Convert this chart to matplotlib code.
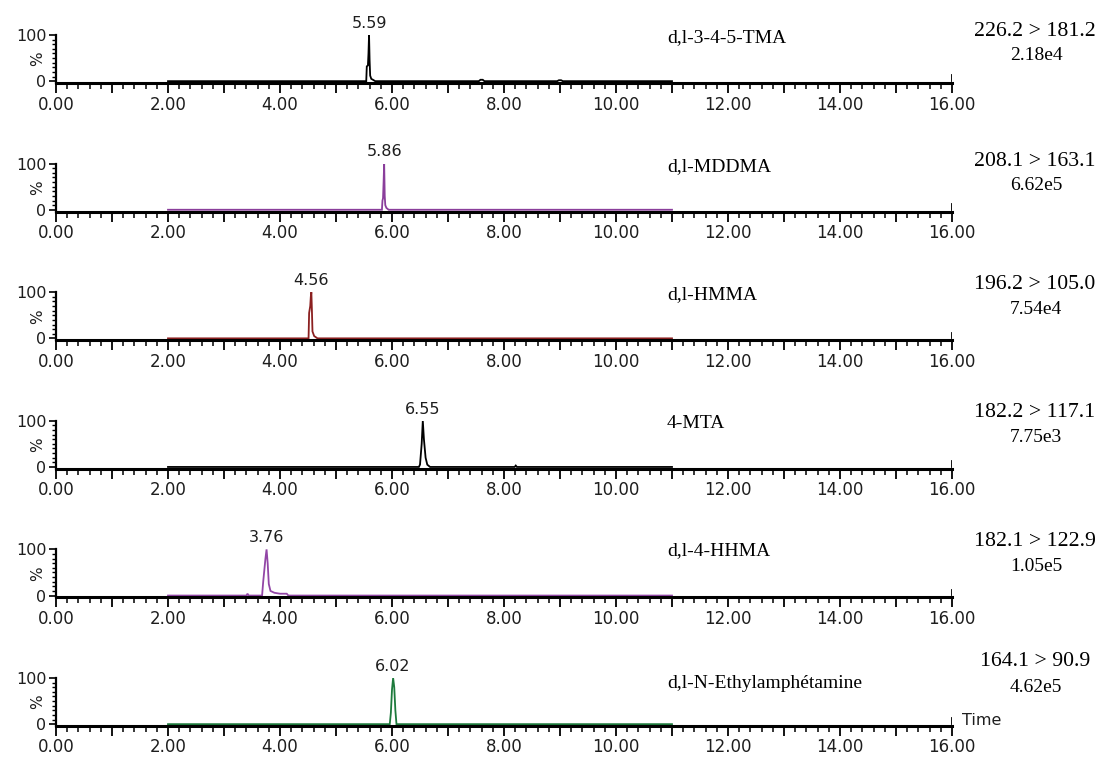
import matplotlib
matplotlib.use("Agg")
import matplotlib.pyplot as plt
from matplotlib.ticker import MultipleLocator, FixedLocator, FuncFormatter

# ---------------- data ----------------
compounds = ["d,l-3-4-5-TMA", "d,l-MDDMA", "d,l-HMMA", "4-MTA",
             "d,l-4-HHMA", "d,l-N-Ethylamphétamine"]
transitions = ["226.2 > 181.2", "208.1 > 163.1", "196.2 > 105.0",
               "182.2 > 117.1", "182.1 > 122.9", "164.1 > 90.9"]
intensities = ["2.18e4", "6.62e5", "7.54e4", "7.75e3", "1.05e5", "4.62e5"]
peak_times = [5.59, 5.86, 4.56, 6.55, 3.76, 6.02]
peak_labels = ["5.59", "5.86", "4.56", "6.55", "3.76", "6.02"]

t1 = [2.00, 5.54, 5.55, 5.57, 5.58, 5.59, 5.60, 5.61, 5.63, 5.66, 5.70,
      7.55, 7.58, 7.62, 7.65, 8.95, 8.98, 9.02, 9.05, 11.00]
i1 = [0, 0, 32, 34, 60, 100, 45, 12, 5, 3, 0,
      0, 3, 3, 0, 0, 2, 2, 0, 0]

t2 = [2.00, 5.82, 5.83, 5.84, 5.85, 5.86, 5.87, 5.88, 5.90, 5.94, 11.00]
i2 = [0, 0, 20, 25, 60, 100, 30, 10, 4, 0, 0]

t3 = [2.00, 4.51, 4.52, 4.54, 4.55, 4.56, 4.57, 4.58, 4.61, 4.67, 11.00]
i3 = [0, 0, 55, 70, 90, 100, 60, 15, 5, 0, 0]

t4 = [2.00, 6.48, 6.50, 6.53, 6.55, 6.57, 6.60, 6.63, 6.68, 8.19, 8.21, 8.23, 11.00]
i4 = [0, 0, 5, 50, 100, 60, 20, 5, 0, 0, 3, 0, 0]

t5 = [2.00, 3.40, 3.42, 3.44, 3.68, 3.70, 3.72, 3.74, 3.76, 3.78, 3.80,
      3.83, 3.90, 4.00, 4.12, 4.15, 11.00]
i5 = [0, 0, 4, 0, 0, 30, 55, 80, 100, 70, 25,
      10, 6, 4, 4, 0, 0]

t6 = [2.00, 5.96, 5.98, 6.00, 6.02, 6.04, 6.06, 6.08, 11.00]
i6 = [0, 0, 25, 75, 100, 80, 30, 0, 0]

times = [t1, t2, t3, t4, t5, t6]
signals = [i1, i2, i3, i4, i5, i6]
colors = ["#000000", "#8a3e9b", "#8b2020", "#000000", "#9246a6", "#1d7a3c"]

# ---------------- layout ----------------
W, H = 1104, 758
fig = plt.figure(figsize=(W / 100, H / 100), dpi=100)

left_px, right_px = 56, 952
base0, step = 81, 128.6
name_dy = [43, 43, 44, 43, 45, 40]
trans_dy = [49, 48, 54, 54, 54, 62]
int_dy = [25, 24, 29, 29, 29, 36]

sans = "DejaVu Sans"
serif = "Liberation Serif"
grey = "#1e1e1e"

for k in range(6):
    b = base0 + step * k
    top = b - 46
    bot = b + 2
    ax = fig.add_axes([left_px / W, 1 - bot / H, (right_px - left_px) / W, (bot - top) / H])
    ax.plot(times[k], signals[k], color=colors[k], lw=1.3, solid_joinstyle="miter")
    ax.set_xlim(0, 16)
    ax.set_ylim(-4, 100)
    for s in ["top", "right"]:
        ax.spines[s].set_visible(False)
    ax.spines["bottom"].set_linewidth(2.2)
    ax.spines["left"].set_linewidth(1.6)

    ax.xaxis.set_major_locator(MultipleLocator(1))
    ax.xaxis.set_minor_locator(MultipleLocator(0.2))
    ax.xaxis.set_major_formatter(FuncFormatter(
        lambda v, p: f"{v:.2f}" if round(v) % 2 == 0 else ""))
    ax.tick_params(axis="x", which="major", direction="out", length=7, width=1.3,
                   pad=2, labelsize=12)
    ax.tick_params(axis="x", which="minor", direction="out", length=4, width=1.1)

    ax.yaxis.set_major_locator(FixedLocator([0, 100]))
    ax.yaxis.set_minor_locator(FixedLocator(list(range(10, 100, 10))))
    ax.set_yticklabels(["0", "100"])
    ax.tick_params(axis="y", which="major", direction="out", length=5, width=1.2,
                   pad=2, labelsize=11.5)
    ax.tick_params(axis="y", which="minor", direction="out", length=3, width=1.0)
    for lab in ax.get_xticklabels() + ax.get_yticklabels():
        lab.set_family(sans)
        lab.set_color(grey)

    # right-end bracket
    ax.axvline(16, ymin=0.04, ymax=0.16, color="black", lw=1.3)

    ax.text(-0.021, 0.5, "%", transform=ax.transAxes, rotation=90,
            ha="center", va="center", fontsize=11, family=sans, color=grey)

    ax.annotate(peak_labels[k], xy=(peak_times[k], 100), xytext=(0, 3),
                textcoords="offset points", ha="center", va="bottom",
                fontsize=11.5, family=sans, color=grey)

    fig.text(667 / W, 1 - (b - name_dy[k]) / H, compounds[k], ha="left",
             va="center", fontsize=14, family=serif)
    fig.text(1035 / W, 1 - (b - trans_dy[k]) / H, transitions[k], ha="center",
             va="center", fontsize=15.7, family=serif)
    fig.text(1036 / W, 1 - (b - int_dy[k]) / H, intensities[k], ha="center",
             va="center", fontsize=14, family=serif)

    if k == 5:
        ax.text(1.011, 0.12, "Time", transform=ax.transAxes, ha="left",
                va="center", fontsize=11.5, family=sans, color=grey)

fig.savefig("out.png", dpi=100)
